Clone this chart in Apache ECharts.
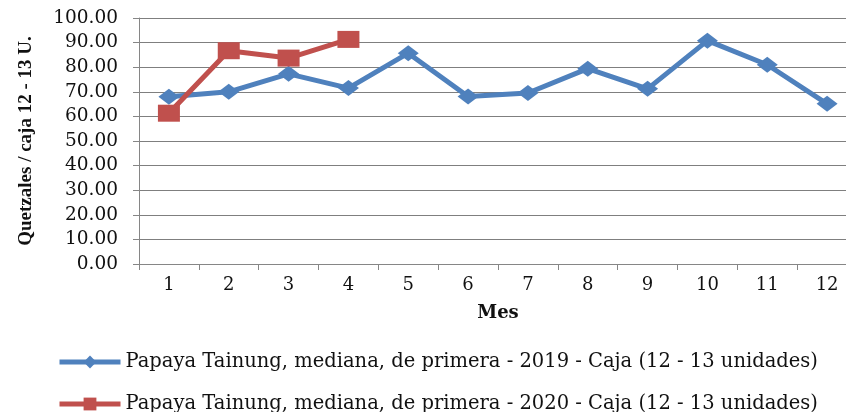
<!DOCTYPE html>
<html><head><meta charset="utf-8">
<script src="https://cdn.jsdelivr.net/npm/echarts@6/dist/echarts.min.js"></script>
<style>html,body{margin:0;padding:0;background:#fff}#c{width:846px;height:412px}</style>
</head><body><div id="c"></div>
<script>
const months = ['1','2','3','4','5','6','7','8','9','10','11','12'];
const name2019 = 'Papaya Tainung, mediana, de primera - 2019 - Caja (12 - 13 unidades)';
const name2020 = 'Papaya Tainung, mediana, de primera - 2020 - Caja (12 - 13 unidades)';
const values2019 = [68.0, 70.0, 77.3, 71.5, 85.7, 68.1, 69.5, 79.4, 71.2, 90.8, 81.0, 65.1];
const values2020 = [61.3, 86.7, 83.7, 91.3];
const yTitle = 'Quetzales / caja 12 - 13 U.';
const xTitle = 'Mes';

const legendText = { fontFamily: 'DejaVu Serif', fontSize: 19.5, color: '#111', padding: [0,0,0,0] };
const legendBase = { orient: 'horizontal', left: 57, padding: 0, itemWidth: 61, itemHeight: 16, itemGap: 4,
  textStyle: legendText, lineStyle: { width: 5 } };
const chart = echarts.init(document.getElementById('c'));
chart.setOption({
  animation: false,
  backgroundColor: '#fff',
  grid: { left: 139, right: -11, top: 18, bottom: 148, outerBoundsMode: 'none', containLabel: false },
  legend: [
    Object.assign({}, legendBase, { top: 352, data: [name2019] }),
    Object.assign({}, legendBase, { top: 394, data: [name2020] })
  ],
  xAxis: {
    type: 'category', data: months, boundaryGap: true,
    name: xTitle, nameLocation: 'middle', nameGap: 40,
    nameTextStyle: { fontFamily: 'DejaVu Serif', fontWeight: 'bold', fontSize: 18, color: '#111' },
    axisLine: { lineStyle: { color: '#868686', width: 1 } },
    axisTick: { show: true, length: 6, lineStyle: { color: '#868686' } },
    axisLabel: { fontFamily: 'DejaVu Serif', fontSize: 18, color: '#111', margin: 12 },
    splitLine: { show: false }
  },
  yAxis: {
    type: 'value', min: 0, max: 100, interval: 10,
    name: yTitle, nameLocation: 'middle', nameGap: 103, nameRotate: 90,
    nameTextStyle: { fontFamily: 'Liberation Serif', fontWeight: 'bold', fontSize: 19, color: '#111' },
    axisLine: { show: true, lineStyle: { color: '#868686', width: 1 } },
    axisTick: { show: true, length: 6, lineStyle: { color: '#868686' } },
    axisLabel: { fontFamily: 'DejaVu Serif', fontSize: 18.5, color: '#111', margin: 21,
      formatter: v => v.toFixed(2) },
    splitLine: { lineStyle: { color: '#7f7f7f', width: 1 } }
  },
  series: [
    { name: name2019, type: 'line', data: values2019,
      symbol: 'diamond', symbolSize: [21, 16],
      lineStyle: { color: '#4F81BD', width: 5 },
      itemStyle: { color: '#4F81BD' } },
    { name: name2020, type: 'line', data: values2020,
      symbol: 'rect', symbolSize: [22, 17],
      lineStyle: { color: '#C0504D', width: 5 },
      itemStyle: { color: '#C0504D' } }
  ]
});
</script></body></html>
